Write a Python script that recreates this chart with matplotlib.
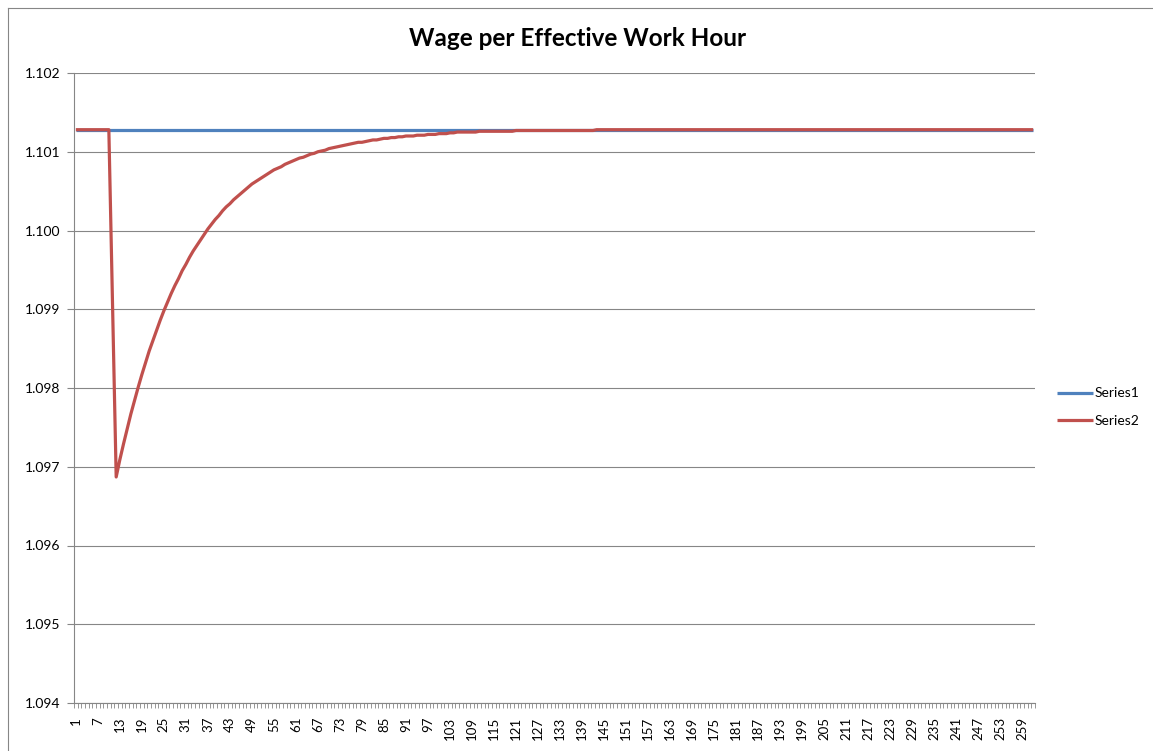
import numpy as np
import matplotlib
matplotlib.use("Agg")
import matplotlib.pyplot as plt
from matplotlib.lines import Line2D

# data (category axis 1..262)
n_periods = 262
periods = np.arange(1, n_periods + 1)

series1 = [1.10128] * n_periods

series2_head = [1.10128] * 10 + [1.09908]
series2_recovery = [
    1.09687, 1.09709, 1.09729, 1.09748, 1.09767, 1.09784, 1.09801, 1.09817, 1.09832, 1.09847,
    1.09860, 1.09873, 1.09886, 1.09898, 1.09909, 1.09920, 1.09930, 1.09939, 1.09949, 1.09957,
    1.09966, 1.09974, 1.09981, 1.09988, 1.09995, 1.10002, 1.10008, 1.10014, 1.10019, 1.10025,
    1.10030, 1.10034, 1.10039, 1.10043, 1.10047, 1.10051, 1.10055, 1.10059, 1.10062, 1.10065,
    1.10068, 1.10071, 1.10074, 1.10077, 1.10079, 1.10081, 1.10084, 1.10086, 1.10088, 1.10090,
    1.10092, 1.10093, 1.10095, 1.10097, 1.10098, 1.10100, 1.10101, 1.10102, 1.10104, 1.10105,
    1.10106, 1.10107, 1.10108, 1.10109, 1.10110, 1.10111, 1.10112, 1.10112, 1.10113, 1.10114,
    1.10115, 1.10115, 1.10116, 1.10117, 1.10117, 1.10118, 1.10118, 1.10119, 1.10119, 1.10120,
    1.10120, 1.10120, 1.10121, 1.10121, 1.10121, 1.10122, 1.10122, 1.10122, 1.10123, 1.10123,
    1.10123, 1.10124, 1.10124, 1.10125, 1.10125, 1.10125, 1.10125, 1.10125, 1.10125, 1.10126,
    1.10126, 1.10126, 1.10126, 1.10126, 1.10126, 1.10126, 1.10126, 1.10126, 1.10126, 1.10127,
    1.10127, 1.10127, 1.10127, 1.10127, 1.10127, 1.10127, 1.10127, 1.10127, 1.10127, 1.10127,
    1.10127, 1.10127, 1.10127, 1.10127, 1.10127, 1.10127, 1.10127, 1.10127, 1.10127, 1.10127,
    1.10127,
]
series2 = series2_head + series2_recovery
series2 = series2 + [1.10128] * (n_periods - len(series2))

y_ticks = [1.094, 1.095, 1.096, 1.097, 1.098, 1.099, 1.100, 1.101, 1.102]
x_labels = list(range(1, 260, 6))

title = "Wage per Effective Work Hour"
blue = "#4F81BD"
red = "#C0504D"
gray = "#868686"

plt.rcParams['font.family'] = ['Lato', 'DejaVu Sans']

W, H = 1153, 751
fig = plt.figure(figsize=(W / 100, H / 100), dpi=100)
ax = fig.add_axes([74 / W, 1 - 703 / H, 961 / W, 630 / H])

ax.plot(periods, series1, color=blue, lw=2.3, label="Series1", solid_capstyle="butt")
ax.plot(periods, series2, color=red, lw=2.3, label="Series2", solid_capstyle="butt")

ax.set_xlim(0.5, n_periods + 0.5)
ax.set_ylim(1.094, 1.102)

ax.set_yticks(y_ticks)
ax.set_yticklabels(["%.3f" % v for v in y_ticks])
ax.yaxis.grid(True, color=gray, lw=0.8)
ax.set_axisbelow(True)
ax.tick_params(axis="y", length=5, color=gray, width=0.8, pad=5, labelsize=10)

# small tick marks between categories, labels every sixth category
ax.set_xticks(np.arange(0.5, n_periods + 1, 1.0))
ax.set_xticklabels([])
ax.tick_params(axis="x", which="major", length=3.5, color=gray, width=0.6)
ax.set_xticks(x_labels, minor=True)
ax.set_xticklabels([str(v) for v in x_labels], minor=True, rotation=90)
ax.tick_params(axis="x", which="minor", length=0, pad=10, labelsize=9.5)

for side in ["top", "right"]:
    ax.spines[side].set_visible(False)
for side in ["left", "bottom"]:
    ax.spines[side].set_color(gray)
    ax.spines[side].set_linewidth(0.8)

fig.text(578 / W, 1 - 38 / H, title, ha="center", va="center",
         fontsize=17.5, fontweight="bold")

ax.legend(loc="center left", bbox_to_anchor=(1057 / W, 1 - 407 / H),
          bbox_transform=fig.transFigure, frameon=False, fontsize=10,
          handlelength=2.6, handletextpad=0.1, labelspacing=1.1,
          borderpad=0, borderaxespad=0)

# outer chart border (cropped on the right and bottom)
fig.add_artist(Line2D([7.5 / W, 7.5 / W], [0, 1 - 8 / H], transform=fig.transFigure,
                      color=gray, lw=0.8))
fig.add_artist(Line2D([7.5 / W, 1], [1 - 8 / H, 1 - 8 / H], transform=fig.transFigure,
                      color=gray, lw=0.8))

fig.savefig("out.png", dpi=100)
